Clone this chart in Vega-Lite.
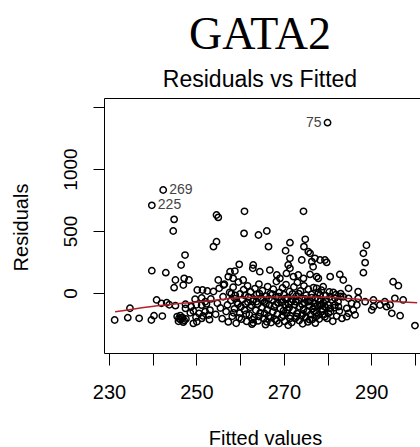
{
"$schema":"https://vega.github.io/schema/vega-lite/v6.json",
"width":316,"height":255,
"autosize":{"type":"none"},
"padding":{"left":104,"top":98,"right":0,"bottom":94},
"background":"white",
"config":{"view":{"stroke":null},
 "axis":{"grid":false,"labelFont":"Liberation Sans","titleFont":"Liberation Sans","labelColor":"black","titleColor":"black","tickColor":"black","domainColor":"black","titleFontWeight":"normal","domainWidth":1,"tickWidth":1}},
"title":{"text":"GATA2","subtitle":"Residuals vs Fitted","font":"Liberation Serif","fontSize":46,"fontWeight":"normal","color":"black","subtitleFont":"Liberation Sans","subtitleFontSize":23,"subtitleColor":"black","anchor":"middle","offset":5,"subtitlePadding":10,"dx":-2},
"datasets":{
"pts":[
{"f":231.3,"r":-218},{"f":234.3,"r":-199},{"f":234.8,"r":-123},{"f":236.9,"r":-204},{"f":239.7,"r":-218},{"f":240.3,"r":-183},{"f":242.2,"r":-186},{"f":239.8,"r":180},{"f":243.0,"r":164},{"f":240.9,"r":-56},{"f":242.0,"r":-83},{"f":243.2,"r":-78},{"f":243.8,"r":-95},{"f":245.2,"r":-102},{"f":247.5,"r":-91},{"f":247.5,"r":-124},{"f":245.2,"r":105},{"f":247.2,"r":118},{"f":248.3,"r":105},{"f":244.9,"r":43},{"f":247.0,"r":64},{"f":246.5,"r":226},{"f":247.4,"r":306},
{"f":242.4,"r":831,"lab":"269"},{"f":239.8,"r":707,"lab":"225"},
{"f":244.9,"r":594},{"f":244.7,"r":500},{"f":250.2,"r":24},{"f":251.4,"r":24},{"f":252.5,"r":16},
{"f":245.6,"r":-190},{"f":246.0,"r":-205},{"f":246.4,"r":-215},{"f":246.8,"r":-198},{"f":247.2,"r":-222},{"f":245.9,"r":-228},{"f":247.6,"r":-210},{"f":246.3,"r":-182},{"f":247.0,"r":-235},{"f":246.6,"r":-200},
{"f":248.8,"r":-110},{"f":249.7,"r":-50},{"f":251.2,"r":-40},{"f":252.0,"r":-70},{"f":250.0,"r":-95},{"f":251.2,"r":-98},{"f":252.3,"r":-88},{"f":249.3,"r":-145},{"f":250.6,"r":-165},{"f":252.0,"r":-150},{"f":253.1,"r":-138},{"f":252.8,"r":-178},{"f":251.2,"r":-205},{"f":250.1,"r":-232},{"f":249.3,"r":-245},{"f":251.5,"r":-185},{"f":248.6,"r":-160},{"f":249.9,"r":-195},{"f":253.0,"r":-215},
{"f":254.6,"r":629},{"f":255.0,"r":610},{"f":261.0,"r":659},{"f":274.5,"r":659},{"f":260.9,"r":481},{"f":264.2,"r":468},{"f":266.1,"r":500},{"f":266.5,"r":374},{"f":254.6,"r":414},{"f":253.9,"r":374},{"f":271.4,"r":406},{"f":274.9,"r":433},{"f":274.6,"r":374},{"f":275.6,"r":333},{"f":276.0,"r":320},{"f":270.4,"r":341},{"f":288.9,"r":385},{"f":288.2,"r":320},{"f":288.6,"r":245},{"f":288.2,"r":164},
{"f":280.0,"r":1374,"lab":"75"},
{"f":271.4,"r":280},{"f":274.1,"r":266},{"f":276.4,"r":253},{"f":277.1,"r":280},{"f":271.0,"r":226},{"f":271.4,"r":199},{"f":276.7,"r":212},{"f":263.0,"r":226},{"f":262.9,"r":199},{"f":259.8,"r":231},{"f":257.7,"r":172},{"f":258.8,"r":177},{"f":257.3,"r":132},{"f":258.4,"r":118},{"f":264.5,"r":172},{"f":266.8,"r":185},{"f":255.0,"r":105},{"f":256.2,"r":64},{"f":260.7,"r":105},{"f":268.4,"r":145},{"f":269.1,"r":118},{"f":270.6,"r":158},{"f":272.2,"r":132},{"f":273.3,"r":145},{"f":274.5,"r":118},{"f":276.0,"r":150},{"f":277.5,"r":132},
{"f":278.3,"r":266},{"f":279.4,"r":266},{"f":279.8,"r":247},{"f":280.6,"r":132},{"f":282.8,"r":150},{"f":283.6,"r":105},{"f":284.8,"r":38},{"f":287.0,"r":11},{"f":295.0,"r":91},{"f":296.2,"r":59},{"f":277.9,"r":118},{"f":277.5,"r":38},{"f":279.0,"r":51},
{"f":278.3,"r":-16},{"f":280.6,"r":-30},{"f":281.7,"r":-43},{"f":283.6,"r":-30},{"f":284.8,"r":-43},{"f":287.0,"r":-43},{"f":290.5,"r":-56},{"f":293.1,"r":-70},{"f":295.4,"r":-43},{"f":297.3,"r":-56},{"f":288.6,"r":-70},
{"f":290.5,"r":-110},{"f":290.1,"r":-137},{"f":292.0,"r":-97},{"f":293.5,"r":-110},{"f":294.3,"r":-97},{"f":294.7,"r":-164},{"f":296.6,"r":-183},{"f":300.0,"r":-263},
{"f":278.3,"r":-97},{"f":279.4,"r":-110},{"f":280.6,"r":-124},{"f":278.7,"r":-150},{"f":280.2,"r":-164},{"f":277.9,"r":-177},{"f":279.4,"r":-191},{"f":281.7,"r":-97},{"f":282.5,"r":-110},{"f":284.4,"r":-124},{"f":284.8,"r":-164},{"f":285.9,"r":-137},{"f":286.3,"r":-177},{"f":284.4,"r":-191},{"f":286.7,"r":-97},{"f":285.5,"r":-83},{"f":281.3,"r":5},{"f":283.0,"r":-5},
{"f":253.3,"r":-48},{"f":253.9,"r":12},{"f":254.4,"r":-172},{"f":254.8,"r":-83},{"f":255.2,"r":38},{"f":255.5,"r":-121},{"f":255.9,"r":-207},{"f":256.1,"r":-30},{"f":256.4,"r":71},{"f":256.8,"r":-150},{"f":257.1,"r":-96},{"f":257.3,"r":-233},{"f":257.6,"r":4},{"f":257.9,"r":-61},{"f":258.2,"r":-188},{"f":258.4,"r":47},{"f":258.7,"r":-128},{"f":258.9,"r":-19},{"f":259.1,"r":-244},{"f":259.3,"r":-77},{"f":259.6,"r":88},{"f":259.9,"r":-162},{"f":260.0,"r":-8},{"f":260.3,"r":-211},{"f":260.5,"r":-52},{"f":260.8,"r":27},{"f":261.0,"r":-139},{"f":261.2,"r":-88},{"f":261.5,"r":-229},{"f":261.7,"r":58},{"f":261.9,"r":-33},{"f":262.1,"r":-176},{"f":262.3,"r":-115},{"f":262.4,"r":9},{"f":262.7,"r":-251},{"f":262.9,"r":-66},{"f":263.2,"r":-198},{"f":263.4,"r":36},{"f":263.6,"r":-140},{"f":263.8,"r":-12},{"f":264.0,"r":-90},{"f":264.1,"r":-225},{"f":264.3,"r":72},{"f":264.6,"r":-160},{"f":264.8,"r":-41},{"f":265.0,"r":-118},{"f":265.1,"r":18},{"f":265.4,"r":-205},{"f":265.6,"r":-72},{"f":265.8,"r":-255},{"f":266.0,"r":-25},{"f":266.2,"r":-134},{"f":266.3,"r":52},{"f":266.5,"r":-187},{"f":266.7,"r":-97},{"f":266.9,"r":-6},{"f":267.1,"r":-238},{"f":267.3,"r":-58},{"f":267.5,"r":-152},{"f":267.6,"r":30},{"f":267.8,"r":-113},{"f":268.0,"r":-212},{"f":268.2,"r":-31},{"f":268.3,"r":93},{"f":268.5,"r":-171},{"f":268.7,"r":-82},{"f":268.9,"r":-246},{"f":269.0,"r":4},{"f":269.2,"r":-126},{"f":269.4,"r":-55},{"f":269.5,"r":-196},{"f":269.7,"r":41},{"f":269.9,"r":-143},{"f":270.0,"r":-14},{"f":270.2,"r":-229},{"f":270.4,"r":-98},{"f":270.5,"r":68},{"f":270.7,"r":-162},{"f":270.9,"r":-40},{"f":271.0,"r":-260},{"f":271.2,"r":-118},{"f":271.3,"r":12},{"f":271.5,"r":-185},{"f":271.7,"r":-72},{"f":271.8,"r":-238},{"f":272.0,"r":-7},{"f":272.1,"r":-140},{"f":272.3,"r":49},{"f":272.5,"r":-93},{"f":272.6,"r":-205},{"f":272.8,"r":-28},{"f":273.0,"r":-166},{"f":273.1,"r":85},{"f":273.3,"r":-60},{"f":273.5,"r":-222},{"f":273.6,"r":-111},{"f":273.8,"r":16},{"f":274.0,"r":-185},{"f":274.1,"r":-45},{"f":274.3,"r":-248},{"f":274.5,"r":-132},{"f":274.6,"r":58},{"f":274.8,"r":-80},{"f":275.0,"r":-196},{"f":275.1,"r":-17},{"f":275.3,"r":-150},{"f":275.5,"r":-233},{"f":275.6,"r":30},{"f":275.8,"r":-98},{"f":276.0,"r":-62},{"f":276.1,"r":-175},{"f":276.3,"r":-12},{"f":276.5,"r":-214},{"f":276.7,"r":-125},{"f":276.8,"r":44},{"f":277.0,"r":-84},{"f":277.2,"r":-243},{"f":277.3,"r":-39},{"f":277.5,"r":-158},{"f":277.7,"r":-101},{"f":277.9,"r":3},{"f":278.1,"r":-210},{"f":278.4,"r":-58},{"f":278.6,"r":22},{"f":278.9,"r":-132},{"f":279.1,"r":-80},{"f":279.3,"r":-172},{"f":279.6,"r":-22},{"f":279.9,"r":-205},{"f":280.1,"r":-95},{"f":280.4,"r":8},{"f":280.7,"r":-150},{"f":281.0,"r":-55},{"f":281.2,"r":-228},{"f":281.6,"r":-118},{"f":281.9,"r":-14},{"f":282.1,"r":-186},{"f":282.4,"r":-70},{"f":282.7,"r":-146},{"f":283.0,"r":-28},{"f":283.3,"r":-205},
{"f":258.0,"r":-5},{"f":258.8,"r":-45},{"f":259.5,"r":-90},{"f":260.2,"r":-110},{"f":261.1,"r":-20},{"f":261.8,"r":-75},{"f":262.6,"r":-100},{"f":263.1,"r":-50},{"f":263.7,"r":-70},{"f":264.4,"r":-5},{"f":265.2,"r":-60},{"f":265.9,"r":-85},{"f":266.6,"r":-45},{"f":267.4,"r":-10},{"f":268.1,"r":-95},{"f":268.8,"r":-30},{"f":269.6,"r":-75},{"f":270.3,"r":-45},{"f":271.1,"r":-88},{"f":271.9,"r":-52},{"f":272.7,"r":-70},{"f":273.4,"r":-5},{"f":274.2,"r":-92},{"f":274.9,"r":-48},{"f":275.7,"r":-70},{"f":276.4,"r":-38},{"f":277.1,"r":-110},{"f":277.8,"r":-50},{"f":278.7,"r":-92},{"f":279.5,"r":-60},
{"f":258.5,"r":-160},{"f":259.8,"r":-200},{"f":261.4,"r":-170},{"f":262.8,"r":-215},{"f":264.3,"r":-190},{"f":265.6,"r":-165},{"f":267.0,"r":-200},{"f":268.4,"r":-225},{"f":269.8,"r":-180},{"f":271.4,"r":-205},{"f":272.9,"r":-190},{"f":274.4,"r":-168},{"f":275.9,"r":-215},{"f":277.4,"r":-190},{"f":270.8,"r":-135},{"f":266.1,"r":-232},{"f":263.0,"r":-240},{"f":276.9,"r":-150}
],
"lo":[{"f":231.4,"r":-151},{"f":239.4,"r":-110},{"f":250.8,"r":-70},{"f":262.3,"r":-35},{"f":273.7,"r":-30},{"f":279.9,"r":-35},{"f":289.0,"r":-56},{"f":300.5,"r":-78}]
},
"layer":[
{"mark":{"type":"rule","color":"#9a9a9a","strokeDash":[4,5],"strokeWidth":1},
 "encoding":{"y":{"datum":0,"type":"quantitative","scale":{"domain":[-484,1573],"nice":false,"zero":false},"axis":null}}},
{"data":{"name":"pts"},
 "mark":{"type":"point","shape":"circle","filled":false,"stroke":"black","strokeWidth":1.5,"size":40,"opacity":1},
 "encoding":{
  "x":{"field":"f","type":"quantitative","scale":{"domain":[228.86,301.15],"nice":false,"zero":false},
   "axis":{"orient":"bottom","values":[230,240,250,260,270,280,290,300],"labelExpr":"datum.value % 20 == 10 ? datum.label : ''","tickSize":12,"labelPadding":33,"labelBaseline":"alphabetic","labelFontSize":20,"labelFlush":false,"labelOverlap":false,"title":"Fitted values","titleFontSize":20,"titleX":161,"titleY":91,"titleBaseline":"alphabetic","titleAlign":"center","domain":true}},
  "y":{"field":"r","type":"quantitative","scale":{"domain":[-484,1573],"nice":false,"zero":false},
   "axis":{"orient":"left","values":[0,500,1000,1500],"format":"d","labelExpr":"datum.value == 1500 ? '' : datum.label","labelAngle":270,"labelAlign":"center","labelBaseline":"alphabetic","labelPadding":17,"labelFontSize":19,"tickSize":11,"labelFlush":false,"labelOverlap":false,"title":"Residuals","titleFontSize":20,"titleAngle":270,"titleX":-77,"titleY":129,"titleAlign":"center","titleBaseline":"alphabetic","domain":true,
    "encode":{"labels":{"angle":{"value":270},"align":{"value":"center"},"baseline":{"value":"alphabetic"}}}}}
 }},
{"data":{"name":"lo"},
 "mark":{"type":"line","color":"#b3202a","strokeWidth":1.5,"interpolate":"monotone"},
 "encoding":{
  "x":{"field":"f","type":"quantitative","scale":{"domain":[228.86,301.15],"nice":false,"zero":false},"axis":null},
  "y":{"field":"r","type":"quantitative","scale":{"domain":[-484,1573],"nice":false,"zero":false},"axis":null}
 }},
{"data":{"name":"pts"},
 "transform":[{"filter":"datum.lab == '75'"}],
 "mark":{"type":"text","align":"right","baseline":"middle","dx":-6,"fontSize":14,"font":"Liberation Sans","color":"#444444"},
 "encoding":{
  "x":{"field":"f","type":"quantitative","scale":{"domain":[228.86,301.15],"nice":false,"zero":false},"axis":{"orient":"top","ticks":false,"labels":false,"title":null,"domain":true}},
  "y":{"field":"r","type":"quantitative","scale":{"domain":[-484,1573],"nice":false,"zero":false},"axis":null},
  "text":{"field":"lab"}
 }},
{"data":{"name":"pts"},
 "transform":[{"filter":"datum.lab == '269' || datum.lab == '225'"}],
 "mark":{"type":"text","align":"left","baseline":"middle","dx":6,"fontSize":14,"font":"Liberation Sans","color":"#444444"},
 "encoding":{
  "x":{"field":"f","type":"quantitative","scale":{"domain":[228.86,301.15],"nice":false,"zero":false},"axis":null},
  "y":{"field":"r","type":"quantitative","scale":{"domain":[-484,1573],"nice":false,"zero":false},"axis":null},
  "text":{"field":"lab"}
 }}
],
"resolve":{"axis":{"x":"independent","y":"independent"}}
}
